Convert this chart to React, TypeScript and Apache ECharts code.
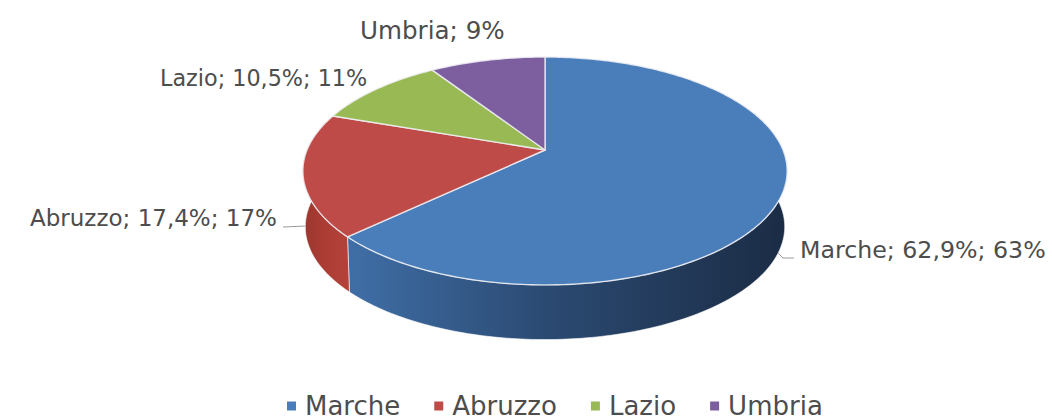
import React, { useEffect, useRef } from "react";
import * as echarts from "echarts";

const categories = ["Marche", "Abruzzo", "Lazio", "Umbria"];
const shares = [62.9, 17.4, 10.5, 9.2];
const labels = ["Marche; 62,9%; 63%", "Abruzzo; 17,4%; 17%", "Lazio; 10,5%; 11%", "Umbria; 9%"];
const topColors = ["#4a7ebb", "#be4b48", "#98b954", "#7d5fa0"];
const labelSizes = [23.7, 23, 22.3, 24.6];

const FONT = "'DejaVu Sans', sans-serif";
const TEXT = "#4d4d4d";

// perspective projection of the pie's circular plane
const APEX_X = 545, APEX_Y = 150, K = -0.184, AX = 238, AY = 110.1;
const DEPTH = 56, BOTTOM_SCALE = 0.99;
const FRONT_START = 85, FRONT_END = 275;

function project(deg: number, lower: boolean) {
  const r = (deg * Math.PI) / 180;
  const u = Math.sin(r), v = -Math.cos(r);
  const w = 1 + K * v;
  const x = (AX * u) / w, y = (AY * v) / w;
  return lower
    ? [APEX_X + BOTTOM_SCALE * x, APEX_Y + DEPTH + BOTTOM_SCALE * y]
    : [APEX_X + x, APEX_Y + y];
}

function arc(from: number, to: number, lower: boolean) {
  const pts: number[][] = [];
  const n = Math.max(2, Math.ceil(Math.abs(to - from)));
  for (let i = 0; i <= n; i++) pts.push(project(from + ((to - from) * i) / n, lower));
  return pts;
}

const sideStops: Record<number, [number, number, string, string, string]> = {
  0: [350, 785, "#3f6ea6", "#2b4a72", "#1b2c45"],
  1: [305, 352, "#9c372f", "#ac3d35", "#b5433b"],
};

function renderSlice(index: number) {
  return (_params: any, api: any) => {
    const share = api.value(0), before = api.value(1);
    const start = (before / 100) * 360, end = ((before + share) / 100) * 360;
    const children: any[] = [];
    const a = Math.max(start, FRONT_START), b = Math.min(end, FRONT_END);
    if (b > a && sideStops[index]) {
      const [x0, x1, c0, c1, c2] = sideStops[index];
      children.push({
        type: "polygon",
        shape: { points: [...arc(a, b, false), ...arc(b, a, true)] },
        style: {
          fill: new echarts.graphic.LinearGradient(x0, 0, x1, 0, [
            { offset: 0, color: c0 }, { offset: 0.45, color: c1 }, { offset: 1, color: c2 },
          ], true),
          stroke: "rgba(255,255,255,0.75)", lineWidth: 0.8,
        },
      });
    }
    children.push({
      type: "polygon",
      shape: { points: [[APEX_X, APEX_Y], ...arc(start, end, false)] },
      style: { fill: topColors[index], stroke: "rgba(240,240,245,0.85)", lineWidth: 1.4, lineJoin: "round" },
    });
    return { type: "group", children };
  };
}

const labelText = (i: number, x: number, y: number) => ({
  type: "text", x, y,
  style: { text: labels[i], fill: TEXT, font: `${labelSizes[i]}px ${FONT}`, textVerticalAlign: "middle", textAlign: "left" },
});

export default function App() {
  const ref = useRef<HTMLDivElement>(null);
  useEffect(() => {
    const chart = echarts.init(ref.current!, undefined, { renderer: "svg" });
    let cum = 0;
    const series = categories.map((name, i) => {
      const before = cum;
      cum += shares[i];
      return {
        type: "custom", name, coordinateSystem: "none", silent: true,
        itemStyle: { color: topColors[i] },
        renderItem: renderSlice(i),
        data: [[shares[i], before]],
      };
    });
    chart.setOption({
      animation: false,
      backgroundColor: "#ffffff",
      legend: {
        data: categories, left: 287, top: 393, padding: 0, icon: "rect", itemWidth: 9, itemHeight: 9,
        itemGap: 34,
        textStyle: { fontFamily: FONT, fontSize: 26, lineHeight: 24, color: TEXT, padding: [0, 0, 0, 4] },
      },
      series,
      graphic: [
        labelText(3, 360, 30), labelText(2, 160, 78), labelText(1, 30, 218), labelText(0, 800, 250),
        { type: "polyline", shape: { points: [[283, 227], [306, 226]] }, style: { stroke: "#9a9a9a", lineWidth: 1, fill: "none" } },
        { type: "polyline", shape: { points: [[775, 250], [783, 258], [794, 258]] }, style: { stroke: "#9a9a9a", lineWidth: 1, fill: "none" } },
      ],
    });
    return () => chart.dispose();
  }, []);
  return <div ref={ref} style={{ position: "absolute", left: 0, top: 0, width: 1052, height: 420 }} />;
}
